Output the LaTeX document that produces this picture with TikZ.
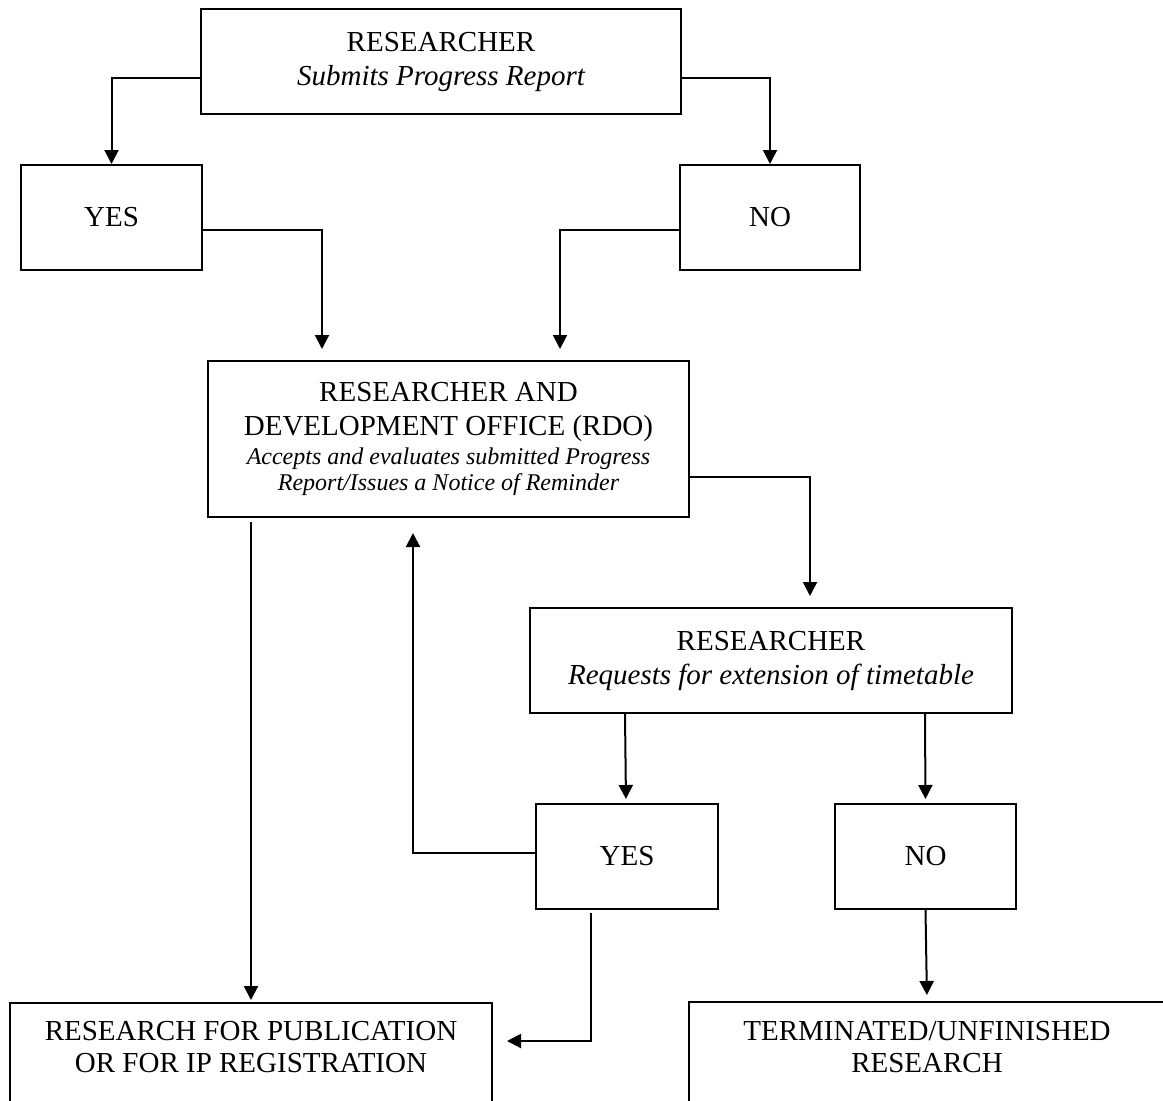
\documentclass[tikz,border=0pt]{standalone}
\usepackage{fontspec}
\setmainfont{Liberation Serif}
\usetikzlibrary{arrows.meta}
\begin{document}
\begin{tikzpicture}[x=1pt,y=-1pt,
  box/.style={draw, line width=2pt, inner sep=0pt, align=center, font=\fontsize{29}{34}\selectfont},
  conn/.style={line width=2pt},
  arr/.style={conn, -{Triangle[length=14pt,width=14pt]}},
  lbl/.style={inner sep=0pt, align=center, font=\fontsize{29}{32}\selectfont}]
\useasboundingbox (0,0) rectangle (1163,1101);
\clip (0,0) rectangle (1163,1101);
% boxes
\node[box, minimum width=480pt, minimum height=105pt] (top) at (441,61.5) {RESEARCHER\\\itshape Submits Progress Report};
\node[box, minimum width=181pt, minimum height=105pt] (yes) at (111.5,217.5) {YES};
\node[box, minimum width=180pt, minimum height=105pt] (no) at (770,217.5) {NO};
\node[box, minimum width=481pt, minimum height=156pt] (rdo) at (448.5,439) {RESEARCHER AND\\DEVELOPMENT OFFICE (RDO)\\[-5.5pt]\fontsize{24}{27}\selectfont\itshape Accepts and evaluates submitted Progress\\[-8pt]\fontsize{24}{27}\selectfont\itshape Report/Issues a Notice of Reminder};
\node[box, minimum width=482pt, minimum height=105pt] (r2) at (771,660.5) {RESEARCHER\\\itshape Requests for extension of timetable};
\node[box, minimum width=182pt, minimum height=105pt] (yes2) at (627,856.5) {YES};
\node[box, minimum width=181pt, minimum height=105pt] (no2) at (925.5,856.5) {NO};
\node[box, minimum width=482pt, minimum height=150pt, anchor=north] (pub) at (251,1002) {};
\node[lbl] (pubt) at (251,1047) {RESEARCH FOR PUBLICATION\\OR FOR IP REGISTRATION};
\node[box, minimum width=476pt, minimum height=150pt, anchor=north] (term) at (927,1001) {};
\node[lbl] (termt) at (927,1047) {TERMINATED/UNFINISHED\\RESEARCH};
% connectors
\draw[arr] ([yshift=-16.5pt]top.west) -| (yes.north);
\draw[arr] ([yshift=-16.5pt]top.east) -| (no.north);
\draw[arr, shorten >=11pt] ([yshift=-12.5pt]yes.east) -| ([xshift=-126.5pt]rdo.north);
\draw[arr, shorten >=11pt] ([yshift=-12.5pt]no.west) -| ([xshift=111.5pt]rdo.north);
\draw[arr, shorten >=11pt] ([yshift=-38pt]rdo.east) -| ([xshift=39pt]r2.north);
\draw[arr, shorten >=4pt] ([xshift=-146pt]r2.south) -- ([xshift=-1pt]yes2.north);
\draw[arr, shorten >=4pt] ([xshift=154pt]r2.south) -- (no2.north);
\draw[arr, shorten >=15pt] ([yshift=3.5pt]yes2.west) -| ([xshift=-35.5pt]rdo.south);
\draw[arr, shorten <=4pt, shorten >=2pt] (rdo.south -| pub.north) -- (pub.north);
\draw[arr, shorten <=3pt, shorten >=14pt] ([xshift=-36pt]yes2.south) |- ([yshift=-39pt]pub.north east);
\draw[arr, shorten >=6pt] (no2.south) -- (term.north);
\end{tikzpicture}
\end{document}
